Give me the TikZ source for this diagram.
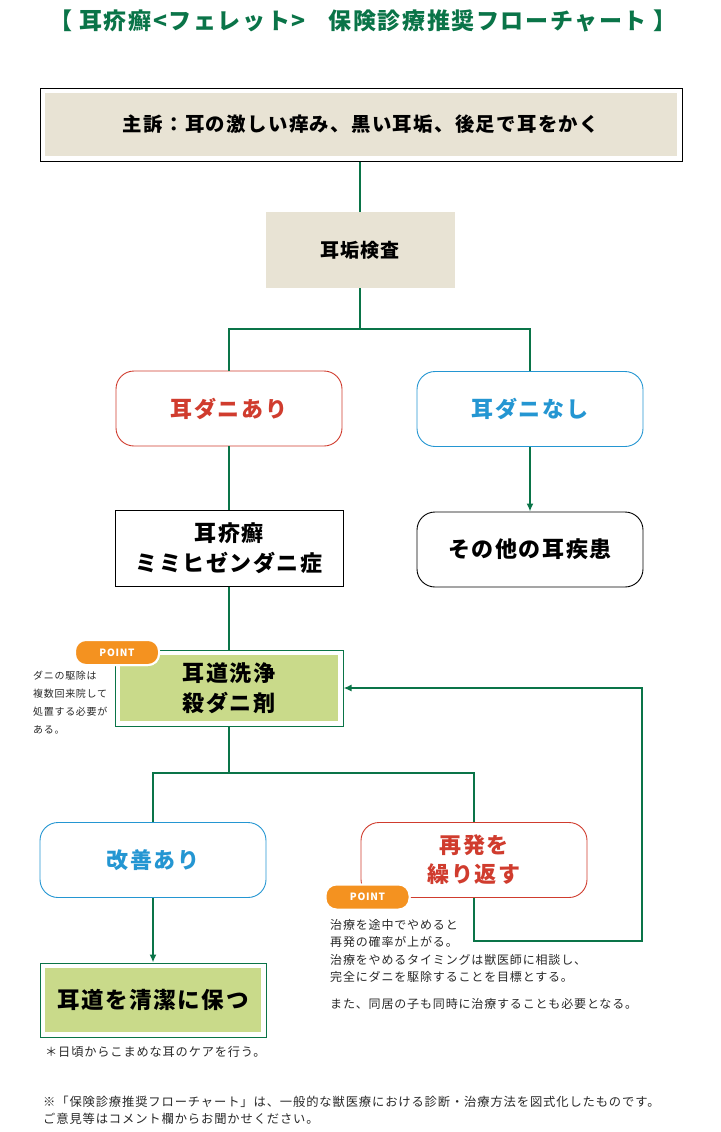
\documentclass[tikz,border=0pt]{standalone}
\usepackage{fontspec}
\setmainfont{Noto Sans CJK JP}[LetterSpace=7]
\usetikzlibrary{calc,positioning,arrows.meta}
\usepackage{xcolor}

\definecolor{flowGreen}{RGB}{10,116,72}
\definecolor{boxBeige}{RGB}{232,227,212}
\definecolor{boxLime}{RGB}{201,218,138}
\definecolor{mitesRed}{RGB}{208,60,46}
\definecolor{mitesBlue}{RGB}{36,150,210}
\definecolor{pointOrange}{RGB}{244,146,32}
\definecolor{noteGray}{RGB}{40,40,40}

\tikzset{
    flow/.style={draw=flowGreen, line width=1.8pt},
    tip/.style={-{Latex[length=8pt,width=7pt]}},
    insetbox/.style 2 args={draw=#1, line width=1pt, fill=white, inner sep=0pt,
        path picture={\fill[#2] ([shift={(5pt,-5pt)}]path picture bounding box.north west)
            rectangle ([shift={(-5pt,5pt)}]path picture bounding box.south east);}},
    roundbox/.style={draw=#1, line width=0.9pt, rounded corners=18pt, fill=white,
        minimum width=226pt, minimum height=75pt, inner sep=0pt, align=center,
        text=#1, font=\bfseries\fontsize{22}{29}\selectfont},
    pointtag/.style={fill=pointOrange, draw=white, line width=2pt, rounded corners=11pt,
        minimum width=84pt, minimum height=25pt, inner sep=0pt, text=white,
        font=\bfseries\fontsize{10}{10}\selectfont},
    notetext/.style={anchor=north west, inner sep=0pt, align=left, text=noteGray}
}

\begin{document}
\begin{tikzpicture}[x=1pt,y=-1pt]
    \useasboundingbox (0,0) rectangle (720,1132);

    % Title
        \node[text=flowGreen, font=\bfseries\fontsize{23}{26}\selectfont] (title) at (363,21)
            {【\ 耳疥癬<フェレット>\quad 保険診療推奨フローチャート\ 】};

    % Chief complaint and first test
        \node[insetbox={black}{boxBeige}, minimum width=642pt, minimum height=73pt,
            font=\bfseries\fontsize{19.4}{22}\selectfont] (complaint) at (361,124.5)
            {主訴：耳の激しい痒み、黒い耳垢、後足で耳をかく};
        \node[fill=boxBeige, minimum width=189pt, minimum height=76pt, inner sep=0pt,
            font=\bfseries\fontsize{19}{22}\selectfont] (earwax) at (360,250) {耳垢検査};

    % Branch: mites found or not
        \node[roundbox=mitesRed] (mitesYes) at (229,408.5) {耳ダニあり};
        \node[roundbox=mitesBlue] (mitesNo) at (530,409) {耳ダニなし};
        \node[draw, line width=1pt, minimum width=228pt, minimum height=76pt, inner sep=0pt,
            align=center, font=\bfseries\fontsize{22}{30}\selectfont] (scabies) at (229,548)
            {耳疥癬\\ミミヒゼンダニ症};
        \node[roundbox=black] (otherEar) at (530,549.5) {その他の耳疾患};

    % Treatment
        \node[insetbox={flowGreen}{boxLime}, minimum width=228pt, minimum height=76pt,
            align=center, font=\bfseries\fontsize{22}{30}\selectfont] (wash) at (229,688)
            {耳道洗浄\\殺ダニ剤};
        \node[pointtag] (pointWash) at (117,652.5) {POINT};
        \node[notetext, font=\fontsize{10}{18}\selectfont] (noteWash) at (33,671)
            {ダニの駆除は\\複数回来院して\\処置する必要が\\ある。};

    % Outcome
        \node[roundbox=mitesBlue] (improved) at (153,860) {改善あり};
        \node[roundbox=mitesRed] (relapse) at (474,860) {再発を\\繰り返す};
        \node[pointtag] (pointRelapse) at (367.5,897) {POINT};
        \node[notetext, font=\fontsize{12}{17.5}\selectfont] (noteRelapse) at (330,919)
            {治療を途中でやめると\\再発の確率が上がる。\\治療をやめるタイミングは獣医師に相談し、\\完全にダニを駆除することを目標とする。\\[9pt]また、同居の子も同時に治療することも必要となる。};
        \node[insetbox={flowGreen}{boxLime}, minimum width=226pt, minimum height=74pt,
            font=\bfseries\fontsize{22.5}{28}\selectfont] (keepClean) at (153,1000) {耳道を清潔に保つ};
        \node[notetext, font=\fontsize{12.2}{16}\selectfont] (noteClean) at (45,1046)
            {＊日頃からこまめな耳のケアを行う。};

    % Footer
        \node[notetext, font=\fontsize{12.3}{16.5}\selectfont] (footer) at (43,1096)
            {※「保険診療推奨フローチャート」は、一般的な獣医療における診断・治療方法を図式化したものです。\\ご意見等はコメント欄からお聞かせください。};

    % Connectors
        \coordinate (splitTest) at (360,329);
        \coordinate (splitWash) at (229,773);
        \coordinate (loopTurn) at (642,941);
        \draw[flow] (earwax |- complaint.south) -- (earwax);
        \draw[flow] (earwax) -- (splitTest) -| (mitesYes);
        \draw[flow] (splitTest) -| (mitesNo);
        \draw[flow] (mitesYes) -- (scabies);
        \draw[flow, tip] (mitesNo) -- (otherEar);
        \draw[flow] (scabies) -- (wash);
        \draw[flow] (wash) -- (splitWash) -| (improved);
        \draw[flow] (splitWash) -| (relapse);
        \draw[flow, tip] (improved) -- (keepClean);
        \draw[flow, tip] (relapse) |- (loopTurn) |- (wash);

    % Redraw tags over the lines
        \node[pointtag] at (pointWash) {POINT};
        \node[pointtag] at (pointRelapse) {POINT};
\end{tikzpicture}
\end{document}
